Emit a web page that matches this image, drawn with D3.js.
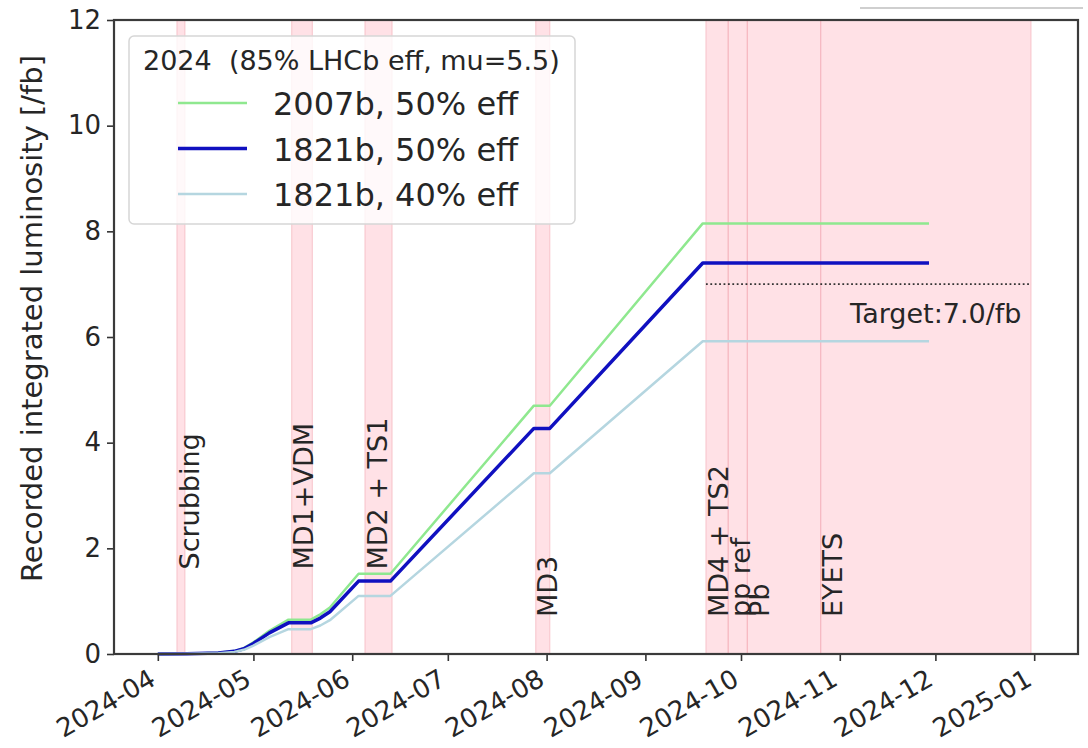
<!DOCTYPE html>
<html>
<head>
<meta charset="utf-8">
<script src="https://cdn.jsdelivr.net/npm/d3@7"></script>
<style>
  body { margin: 0; background: #fff; }
  text { font-family: "DejaVu Sans", sans-serif; fill: #262626; }
</style>
</head>
<body>
<svg id="chart" width="1088" height="748"></svg>
<script>
// data
var dates = ["2024-04-01", "2024-04-10", "2024-04-20", "2024-04-25", "2024-04-28", "2024-05-01",
    "2024-05-06", "2024-05-12", "2024-05-19", "2024-05-22", "2024-05-25", "2024-06-03",
    "2024-06-13", "2024-07-28", "2024-08-02", "2024-09-19", "2024-11-29"];
var lumi2007b50 = [0, 0.006, 0.022, 0.055, 0.11, 0.22, 0.44, 0.65, 0.65, 0.75, 0.88, 1.52, 1.52, 4.70, 4.70, 8.15, 8.15];
var lumi1821b50 = [0, 0.005, 0.02, 0.05, 0.10, 0.20, 0.40, 0.59, 0.59, 0.68, 0.80, 1.38, 1.38, 4.27, 4.27, 7.40, 7.40];
var lumi1821b40 = [0, 0.004, 0.016, 0.04, 0.08, 0.16, 0.32, 0.47, 0.47, 0.54, 0.64, 1.10, 1.10, 3.42, 3.42, 5.92, 5.92];

var spanLabels = ["Scrubbing", "MD1+VDM", "MD2 + TS1", "MD3", "MD4 + TS2", "pp ref", "Pb", "EYETS"];
var spanStart = ["2024-04-07", "2024-05-13", "2024-06-05", "2024-07-28T14:00", "2024-09-20", "2024-09-27", "2024-10-03", "2024-10-26"];
var spanEnd = ["2024-04-09T12:00", "2024-05-19T12:00", "2024-06-13T12:00", "2024-08-02", "2024-09-27", "2024-10-03", "2024-10-26", "2024-12-31"];
var labelY = [1.6, 1.6, 1.6, 0.7, 0.7, 0.7, 0.7, 0.7];

var targetValue = 7.0;
var targetFrom = "2024-09-20", targetTo = "2024-12-31";
var targetText = "Target:7.0/fb";

var yTicks = [0, 2, 4, 6, 8, 10, 12];
var legendTitle = "2024  (85% LHCb eff, mu=5.5)";
var legendLabels = ["2007b, 50% eff", "1821b, 50% eff", "1821b, 40% eff"];
var seriesColors = ["#8fe88f", "#1010c0", "#b5d6e0"];
var seriesWidths = [2.5, 3.5, 2.5];

var parse = d3.isoParse;
var margin = { top: 20, right: 10, bottom: 94, left: 114 },
    width = 1088 - margin.left - margin.right,
    height = 748 - margin.top - margin.bottom;

var svg = d3.select("#chart").append("g")
    .attr("transform", "translate(" + margin.left + "," + margin.top + ")");

var x = d3.scaleTime()
    .domain([parse("2024-03-18T06:00"), parse("2025-01-14T18:00")])
    .range([0, width]);
var y = d3.scaleLinear().domain([0, 12]).range([height, 0]);

// shaded periods
svg.selectAll(".span")
    .data(spanStart)
    .enter().append("rect")
    .attr("class", "span")
    .attr("x", function (d) { return x(parse(d)); })
    .attr("width", function (d, i) { return x(parse(spanEnd[i])) - x(parse(d)); })
    .attr("y", 0)
    .attr("height", height)
    .attr("fill", "#ffc0cb")
    .attr("fill-opacity", 0.48)
    .attr("stroke", "#f4a9b4")
    .attr("stroke-opacity", 0.5)
    .attr("stroke-width", 1.2);

var fsLab = 27;
svg.selectAll(".spanlabel")
    .data(spanLabels)
    .enter().append("text")
    .attr("class", "spanlabel")
    .attr("transform", function (d, i) {
        return "translate(" + (x(parse(spanStart[i])) + 0.8 * fsLab) + "," + y(labelY[i]) + ")rotate(-90)";
    })
    .style("font-size", fsLab + "px")
    .text(function (d) { return d; });

// lines
var allSeries = [lumi2007b50, lumi1821b50, lumi1821b40];
var line = d3.line()
    .x(function (d, i) { return x(parse(dates[i])); })
    .y(function (d) { return y(d); });

svg.selectAll(".lumi")
    .data(allSeries)
    .enter().append("path")
    .attr("class", "lumi")
    .attr("d", line)
    .attr("fill", "none")
    .attr("stroke", function (d, i) { return seriesColors[i]; })
    .attr("stroke-width", function (d, i) { return seriesWidths[i]; })
    .attr("stroke-linejoin", "round");

// target
svg.append("line")
    .attr("x1", x(parse(targetFrom))).attr("x2", x(parse(targetTo)))
    .attr("y1", y(targetValue)).attr("y2", y(targetValue))
    .attr("stroke", "#333")
    .attr("stroke-width", 1.8)
    .attr("stroke-dasharray", "1.8,2.6");

svg.append("text")
    .attr("x", x(parse("2024-12-28")))
    .attr("y", y(6.27))
    .attr("text-anchor", "end")
    .style("font-size", "27px")
    .text(targetText);

// axes
var yAxis = svg.append("g")
    .call(d3.axisLeft(y).tickValues(yTicks).tickSize(7).tickPadding(6));
yAxis.selectAll("text").style("font-size", "26px").style("fill", "#262626");

var xAxis = svg.append("g")
    .attr("transform", "translate(0," + height + ")")
    .call(d3.axisBottom(x).ticks(d3.timeMonth.every(1)).tickFormat(d3.timeFormat("%Y-%m")).tickSize(7));
xAxis.selectAll("text")
    .style("font-size", "26px")
    .style("fill", "#262626")
    .attr("text-anchor", "end")
    .attr("dy", null)
    .attr("y", null)
    .attr("transform", "translate(-1,30)rotate(-30)");

svg.selectAll(".domain").remove();
svg.selectAll(".tick line").attr("stroke", "#333").attr("stroke-width", 1.6);

svg.append("rect")
    .attr("x", 0).attr("y", 0)
    .attr("width", width).attr("height", height)
    .attr("fill", "none")
    .attr("stroke", "#3a3a3a")
    .attr("stroke-width", 2.2);

svg.append("text")
    .attr("transform", "translate(-72," + (582 - margin.top) + ")rotate(-90)")
    .style("font-size", "29px")
    .text("Recorded integrated luminosity [/fb]");

// legend
var lg = svg.append("g").attr("transform", "translate(" + (129 - margin.left) + "," + (36 - margin.top) + ")");
lg.append("rect")
    .attr("width", 446).attr("height", 188)
    .attr("rx", 5)
    .attr("fill", "#fff").attr("fill-opacity", 0.8)
    .attr("stroke", "#d6d6d6").attr("stroke-width", 1.5);
lg.append("text")
    .attr("x", 14).attr("y", 34)
    .style("font-size", "27px")
    .style("white-space", "pre")
    .text(legendTitle);
legendLabels.forEach(function (lab, i) {
    var cy = 67 + i * 45.5;
    lg.append("line")
        .attr("x1", 49).attr("x2", 118)
        .attr("y1", cy).attr("y2", cy)
        .attr("stroke", seriesColors[i])
        .attr("stroke-width", seriesWidths[i]);
    lg.append("text")
        .attr("x", 144).attr("y", cy + 12)
        .style("font-size", "32px")
        .text(lab);
});

// stray grey stroke at the top edge of the picture
d3.select("#chart").append("line")
    .attr("x1", 860).attr("x2", 1083).attr("y1", 8).attr("y2", 8)
    .attr("stroke", "#cfcfcf").attr("stroke-width", 2);
</script>
</body>
</html>
